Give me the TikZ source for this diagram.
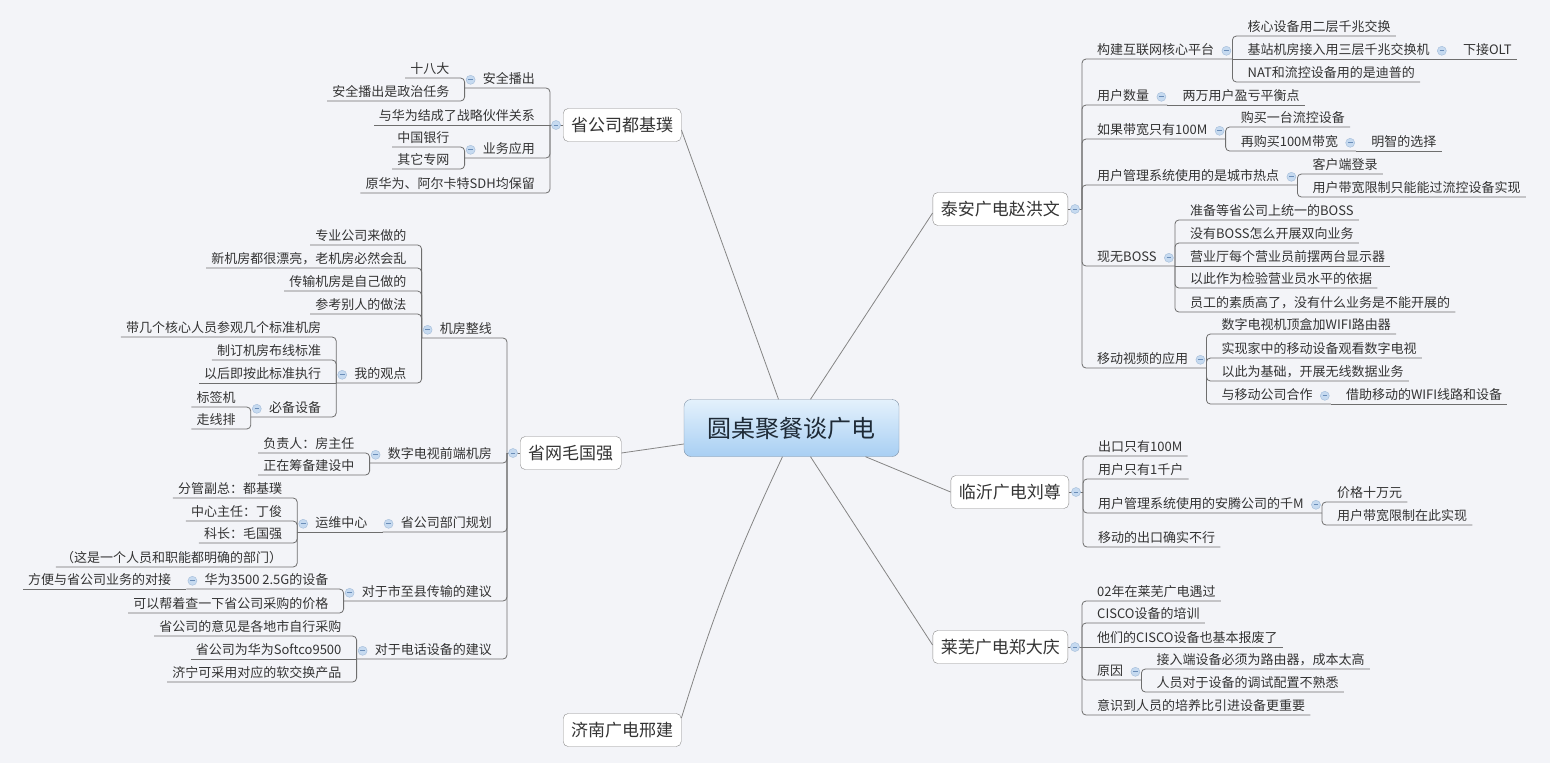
\documentclass[tikz,border=0pt]{standalone}
\usepackage{fontspec}
\setmainfont{Noto Sans CJK SC}

\definecolor{bg}{HTML}{F3F4F8}
\definecolor{ink}{HTML}{333333}
\definecolor{linkgray}{HTML}{6E6E6E}
\definecolor{spokegray}{HTML}{858585}
\definecolor{boxline}{HTML}{8C8C8C}
\definecolor{hubline}{HTML}{7D8FA3}
\definecolor{hubtop}{HTML}{E4F1FC}
\definecolor{hubbot}{HTML}{A8CFF3}
\definecolor{hubink}{HTML}{1E2A36}
\definecolor{foldfill}{HTML}{C6DAF0}
\definecolor{folddraw}{HTML}{A9C1DC}
\definecolor{foldbar}{HTML}{6A8DB8}

\begin{document}
\begin{tikzpicture}[x=1pt,y=-1pt,
    topic/.style={font=\fontsize{13}{15}\selectfont,text=ink,inner xsep=5pt,inner ysep=2pt,
      text height=10pt,text depth=2pt},
    topicL/.style={topic,anchor=south east,xshift=-10pt},
    topicR/.style={topic,anchor=south west,xshift=10pt},
    branch/.style={draw=boxline,fill=white,rounded corners=5pt,font=\fontsize{17}{20}\selectfont,
      text=ink,inner xsep=8pt,minimum height=33pt},
    hub/.style={draw=hubline,top color=hubtop,bottom color=hubbot,rounded corners=7pt,
      font=\fontsize{24}{28}\selectfont,text=hubink,minimum width=215pt,minimum height=57pt},
    link/.style={draw=linkgray,line width=0.8pt,rounded corners=4pt},
    spoke/.style={draw=spokegray,line width=0.8pt},
    fold/.style={circle,draw=folddraw,fill=foldfill,line width=0.5pt,minimum size=9pt,inner sep=0pt,
      path picture={\draw[foldbar,line width=0.9pt]
        ([xshift=-2.3pt]path picture bounding box.center) -- ([xshift=2.3pt]path picture bounding box.center);}}]

  % Canvas
  \useasboundingbox (0,0) rectangle (1550,763);
  \fill[bg] (0,0) rectangle (1550,763);

  % --- Central topic and main branches ---
  \node[hub] (root) at (791.5,428) {圆桌聚餐谈广电};
  \node[branch,anchor=west] (b1) at (563,125) {省公司都基璞};
  \node[branch,anchor=west] (b2) at (520,453) {省网毛国强};
  \node[branch,anchor=west] (b3) at (563,730) {济南广电邢建};
  \node[branch,anchor=east] (b4) at (1068,209) {泰安广电赵洪文};
  \node[branch,anchor=east] (b5) at (1069,492) {临沂广电刘尊};
  \node[branch,anchor=east] (b6) at (1068,647) {莱芜广电郑大庆};

  \coordinate[xshift=-13pt] (b1j) at (b1.west);
  \coordinate[xshift=-13pt] (b2j) at (b2.west);
  \coordinate[xshift=14pt] (b4j) at (b4.east);
  \coordinate[xshift=14pt] (b5j) at (b5.east);
  \coordinate[xshift=14pt] (b6j) at (b6.east);

  % --- 省公司都基璞 ---
  \node[topicL] (a1) at (b1j |- 0,88) {安全播出};
  \coordinate[xshift=-13pt] (a1j) at (a1.south west);
  \node[topicL] (a1a) at (a1j |- 0,78) {十八大};
  \node[topicL] (a1b) at (a1j |- 0,101) {安全播出是政治任务};
  \node[topicL] (a2) at (b1j |- 0,125) {与华为结成了战略伙伴关系};
  \node[topicL] (a3) at (b1j |- 0,158) {业务应用};
  \coordinate[xshift=-13pt] (a3j) at (a3.south west);
  \node[topicL] (a3a) at (a3j |- 0,147) {中国银行};
  \node[topicL] (a3b) at (a3j |- 0,169) {其它专网};
  \node[topicL] (a4) at (b1j |- 0,193) {原华为、阿尔卡特SDH均保留};

  % --- 省网毛国强 ---
  \node[topicL] (c1) at (b2j |- 0,338) {机房整线};
  \coordinate[xshift=-13pt] (c1j) at (c1.south west);
  \node[topicL] (c1a) at (c1j |- 0,245) {专业公司来做的};
  \node[topicL] (c1b) at (c1j |- 0,268) {新机房都很漂亮，老机房必然会乱};
  \node[topicL] (c1c) at (c1j |- 0,291) {传输机房是自己做的};
  \node[topicL] (c1d) at (c1j |- 0,314) {参考别人的做法};
  \node[topicL] (c2) at (c1j |- 0,383) {我的观点};
  \coordinate[xshift=-13pt] (c2j) at (c2.south west);
  \node[topicL] (c2a) at (c2j |- 0,337) {带几个核心人员参观几个标准机房};
  \node[topicL] (c2b) at (c2j |- 0,360) {制订机房布线标准};
  \node[topicL] (c2c) at (c2j |- 0,383) {以后即按此标准执行};
  \node[topicL] (c3) at (c2j |- 0,417) {必备设备};
  \coordinate[xshift=-13pt] (c3j) at (c3.south west);
  \node[topicL] (c3a) at (c3j |- 0,407) {标签机};
  \node[topicL] (c3b) at (c3j |- 0,429) {走线排};
  \node[topicL] (c4) at (b2j |- 0,463) {数字电视前端机房};
  \coordinate[xshift=-13pt] (c4j) at (c4.south west);
  \node[topicL] (c4a) at (c4j |- 0,453) {负责人：房主任};
  \node[topicL] (c4b) at (c4j |- 0,475) {正在筹备建设中};
  \node[topicL] (c5) at (b2j |- 0,532) {省公司部门规划};
  \coordinate[xshift=-13pt] (c5j) at (c5.south west);
  \node[topicL] (c6) at (c5j |- 0,532) {运维中心};
  \coordinate[xshift=-13pt] (c6j) at (c6.south west);
  \node[topicL] (c6a) at (c6j |- 0,498) {分管副总：都基璞};
  \node[topicL] (c6b) at (c6j |- 0,521) {中心主任：丁俊};
  \node[topicL] (c6c) at (c6j |- 0,543) {科长：毛国强};
  \node[topicL] (c6d) at (c6j |- 0,567) {（这是一个人员和职能都明确的部门）};
  \node[topicL] (c7) at (b2j |- 0,601) {对于市至县传输的建议};
  \coordinate[xshift=-13pt] (c7j) at (c7.south west);
  \node[topicL] (c8) at (c7j |- 0,589) {华为3500 2.5G的设备};
  \coordinate[xshift=-13pt] (c8j) at (c8.south west);
  \node[topicL] (c8a) at (c8j |- 0,589) {方便与省公司业务的对接};
  \node[topicL] (c7b) at (c7j |- 0,613) {可以帮着查一下省公司采购的价格};
  \node[topicL] (c9) at (b2j |- 0,659) {对于电话设备的建议};
  \coordinate[xshift=-13pt] (c9j) at (c9.south west);
  \node[topicL] (c9a) at (c9j |- 0,636) {省公司的意见是各地市自行采购};
  \node[topicL] (c9b) at (c9j |- 0,659) {省公司为华为Softco9500};
  \node[topicL] (c9c) at (c9j |- 0,682) {济宁可采用对应的软交换产品};

  % --- 泰安广电赵洪文 ---
  \node[topicR] (d1) at (b4j |- 0,59) {构建互联网核心平台};
  \coordinate[xshift=13pt] (d1j) at (d1.south east);
  \node[topicR] (d1a) at (d1j |- 0,36) {核心设备用二层千兆交换};
  \node[topicR] (d2) at (d1j |- 0,59) {基站机房接入用三层千兆交换机};
  \coordinate[xshift=13pt] (d2j) at (d2.south east);
  \node[topicR] (d2a) at (d2j |- 0,59) {下接OLT};
  \node[topicR] (d1c) at (d1j |- 0,82) {NAT和流控设备用的是迪普的};
  \node[topicR] (d3) at (b4j |- 0,105) {用户数量};
  \coordinate[xshift=13pt] (d3j) at (d3.south east);
  \node[topicR] (d3a) at (d3j |- 0,105) {两万用户盈亏平衡点};
  \node[topicR] (d4) at (b4j |- 0,139) {如果带宽只有100M};
  \coordinate[xshift=13pt] (d4j) at (d4.south east);
  \node[topicR] (d4a) at (d4j |- 0,127) {购买一台流控设备};
  \node[topicR] (d5) at (d4j |- 0,151) {再购买100M带宽};
  \coordinate[xshift=13pt] (d5j) at (d5.south east);
  \node[topicR] (d5a) at (d5j |- 0,151) {明智的选择};
  \node[topicR] (d6) at (b4j |- 0,185) {用户管理系统使用的是城市热点};
  \coordinate[xshift=13pt] (d6j) at (d6.south east);
  \node[topicR] (d6a) at (d6j |- 0,174) {客户端登录};
  \node[topicR] (d6b) at (d6j |- 0,197) {用户带宽限制只能能过流控设备实现};
  \node[topicR] (d7) at (b4j |- 0,266) {现无BOSS};
  \coordinate[xshift=13pt] (d7j) at (d7.south east);
  \node[topicR] (d7a) at (d7j |- 0,220) {准备等省公司上统一的BOSS};
  \node[topicR] (d7b) at (d7j |- 0,243) {没有BOSS怎么开展双向业务};
  \node[topicR] (d7c) at (d7j |- 0,266) {营业厅每个营业员前摆两台显示器};
  \node[topicR] (d7d) at (d7j |- 0,288) {以此作为检验营业员水平的依据};
  \node[topicR] (d7e) at (d7j |- 0,312) {员工的素质高了，没有什么业务是不能开展的};
  \node[topicR] (d8) at (b4j |- 0,368) {移动视频的应用};
  \coordinate[xshift=13pt] (d8j) at (d8.south east);
  \node[topicR] (d8a) at (d8j |- 0,334) {数字电视机顶盒加WIFI路由器};
  \node[topicR] (d8b) at (d8j |- 0,358) {实现家中的移动设备观看数字电视};
  \node[topicR] (d8c) at (d8j |- 0,381) {以此为基础，开展无线数据业务};
  \node[topicR] (d9) at (d8j |- 0,404) {与移动公司合作};
  \coordinate[xshift=13pt] (d9j) at (d9.south east);
  \node[topicR] (d9a) at (d9j |- 0,404) {借助移动的WIFI线路和设备};

  % --- 临沂广电刘尊 ---
  \node[topicR] (e1) at (b5j |- 0,456) {出口只有100M};
  \node[topicR] (e2) at (b5j |- 0,479) {用户只有1千户};
  \node[topicR] (e3) at (b5j |- 0,513) {用户管理系统使用的安腾公司的千M};
  \coordinate[xshift=13pt] (e3j) at (e3.south east);
  \node[topicR] (e3a) at (e3j |- 0,502) {价格十万元};
  \node[topicR] (e3b) at (e3j |- 0,525) {用户带宽限制在此实现};
  \node[topicR] (e4) at (b5j |- 0,547) {移动的出口确实不行};

  % --- 莱芜广电郑大庆 ---
  \node[topicR] (f1) at (b6j |- 0,601) {02年在莱芜广电遇过};
  \node[topicR] (f2) at (b6j |- 0,623) {CISCO设备的培训};
  \node[topicR] (f3) at (b6j |- 0,647) {他们的CISCO设备也基本报废了};
  \node[topicR] (f4) at (b6j |- 0,680) {原因};
  \coordinate[xshift=13pt] (f4j) at (f4.south east);
  \node[topicR] (f4a) at (f4j |- 0,669) {接入端设备必须为路由器，成本太高};
  \node[topicR] (f4b) at (f4j |- 0,692) {人员对于设备的调试配置不熟悉};
  \node[topicR] (f5) at (b6j |- 0,715) {意识到人员的培养比引进设备更重要};

  % --- Spokes from the central topic ---
  \draw[spoke] ([xshift=-13pt]root.north) -- ([yshift=-5pt]b1.east);
  \draw[spoke] ([yshift=-16pt]root.west) -- (b2.east);
  \draw[spoke] ([xshift=-9pt]root.south) to[bend right=4] ([yshift=12pt]b3.east);
  \draw[spoke] ([xshift=19pt]root.north) -- ([yshift=-4pt]b4.west);
  \draw[spoke] ([xshift=74pt]root.south) -- (b5.west);
  \draw[spoke] ([xshift=19pt]root.south) -- ([yshift=2pt]b6.west);

  % --- Brackets, left side ---
  \draw[link] (b1.west) -- (b1j);
  \draw[link] (b1j) -- (a2.south west);
  \foreach \c in {a1j,a3j} \draw[link] (b1j) |- (\c);
  \draw[link] (b1j) |- (a4.south west);
  \foreach \c in {a1a,a1b} \draw[link] (a1j) |- (\c.south west);
  \foreach \c in {a3a,a3b} \draw[link] (a3j) |- (\c.south west);

  \draw[link] (b2.west) -- (b2j);
  \foreach \c in {c1j,c4j,c5j,c7j,c9j} \draw[link] (b2j) |- (\c);
  \foreach \c in {c1a,c1b,c1c,c1d} \draw[link] (c1j) |- (\c.south west);
  \draw[link] (c1j) |- (c2j);
  \foreach \c in {c2a,c2b} \draw[link] (c2j) |- (\c.south west);
  \draw[link] (c2j) -- (c2c.south west);
  \draw[link] (c2j) |- (c3j);
  \foreach \c in {c3a,c3b} \draw[link] (c3j) |- (\c.south west);
  \foreach \c in {c4a,c4b} \draw[link] (c4j) |- (\c.south west);
  \draw[link] (c5j) -- (c6j);
  \foreach \c in {c6a,c6b,c6c,c6d} \draw[link] (c6j) |- (\c.south west);
  \draw[link] (c7j) |- (c8j);
  \draw[link] (c8j) -- (c8a.south west);
  \draw[link] (c7j) |- (c7b.south west);
  \foreach \c in {c9a,c9c} \draw[link] (c9j) |- (\c.south west);
  \draw[link] (c9j) -- (c9b.south west);

  % --- Brackets, right side ---
  \draw[link] (b4.east) -- (b4j);
  \foreach \c in {d1j,d3j,d4j,d6j,d7j,d8j} \draw[link] (b4j) |- (\c);
  \foreach \c in {d1a,d1c} \draw[link] (d1j) |- (\c.south east);
  \draw[link] (d1j) -- (d2j);
  \draw[link] (d2j) -- (d2a.south east);
  \draw[link] (d3j) -- (d3a.south east);
  \draw[link] (d4j) |- (d4a.south east);
  \draw[link] (d4j) |- (d5j);
  \draw[link] (d5j) -- (d5a.south east);
  \foreach \c in {d6a,d6b} \draw[link] (d6j) |- (\c.south east);
  \foreach \c in {d7a,d7b,d7d,d7e} \draw[link] (d7j) |- (\c.south east);
  \draw[link] (d7j) -- (d7c.south east);
  \foreach \c in {d8a,d8b,d8c} \draw[link] (d8j) |- (\c.south east);
  \draw[link] (d8j) |- (d9j);
  \draw[link] (d9j) -- (d9a.south east);

  \draw[link] (b5.east) -- (b5j);
  \foreach \c in {e1,e2,e4} \draw[link] (b5j) |- (\c.south east);
  \draw[link] (b5j) |- (e3j);
  \foreach \c in {e3a,e3b} \draw[link] (e3j) |- (\c.south east);

  \draw[link] (b6.east) -- (b6j);
  \foreach \c in {f1,f2,f5} \draw[link] (b6j) |- (\c.south east);
  \draw[link] (b6j) -- (f3.south east);
  \draw[link] (b6j) |- (f4j);
  \foreach \c in {f4a,f4b} \draw[link] (f4j) |- (\c.south east);

  % --- Fold markers ---
  \foreach \n in {b1,b2,a1,a3,c1,c2,c3,c4,c5,c6,c7,c8,c9}
    \node[fold] (f-\n) at ([xshift=-7pt]\n.west) {};
  \foreach \n in {b4,b5,b6,d1,d2,d3,d4,d5,d6,d7,d8,d9,e3,f4}
    \node[fold] (f-\n) at ([xshift=7pt]\n.east) {};

\end{tikzpicture}
\end{document}
